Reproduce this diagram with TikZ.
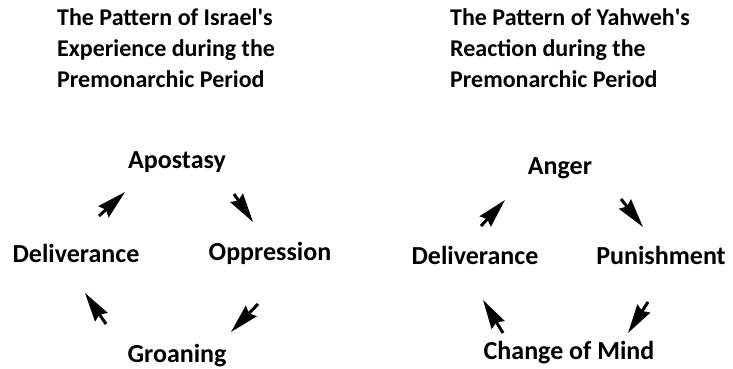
\documentclass[tikz,border=0pt]{standalone}
\usepackage{fontspec}
\setmainfont{Carlito}
\usetikzlibrary{arrows.meta}
\begin{document}
\begin{tikzpicture}
        [x=1pt,y=-1pt,
        every node/.style={inner sep=0pt,font=\fontsize{26}{31}\selectfont\bfseries},
        title/.style={anchor=north west,align=left,font=\fontsize{24}{31}\selectfont\bfseries},
        stage/.style={anchor=center},
        cyclearrow/.style={line width=3pt,-{Stealth[length=29pt,width=15pt,inset=3pt]}},
        ]
        \useasboundingbox (0,0) rectangle (733,369);
        % titles
        \node[title] (title-israel) at (57,8) {The Pattern of Israel\textquotesingle s\\Experience during the\\Premonarchic Period};
        \node[title] (title-yahweh) at (450,8) {The Pattern of Yahweh\textquotesingle s\\Reaction during the\\Premonarchic Period};
        % left cycle
        \node[stage] (apostasy) at (177,162) {Apostasy};
        \node[stage] (oppression) at (270,253) {Oppression};
        \node[stage] (groaning) at (177,356) {Groaning};
        \node[stage] (deliverance-l) at (76,253) {Deliverance};
        % right cycle
        \node[stage] (anger) at (560,168) {Anger};
        \node[stage] (punishment) at (661,255) {Punishment};
        \node[stage] (change) at (569,353) {Change of Mind};
        \node[stage] (deliverance-r) at (475,255) {Deliverance};
        % arrow ends
        \coordinate (l-1a) at (99,216); \coordinate (l-1b) at (125,192);
        \coordinate (l-2a) at (234,194); \coordinate (l-2b) at (253,222);
        \coordinate (l-3a) at (258,304); \coordinate (l-3b) at (231,332);
        \coordinate (l-4a) at (106,324); \coordinate (l-4b) at (85,293);
        \coordinate (r-1a) at (481,226); \coordinate (r-1b) at (505,200);
        \coordinate (r-2a) at (621,199); \coordinate (r-2b) at (643,227);
        \coordinate (r-3a) at (648,302); \coordinate (r-3b) at (628,333);
        \coordinate (r-4a) at (503,333); \coordinate (r-4b) at (483,300);
        \foreach \s in {l,r}
          \foreach \i in {1,...,4}
            \draw[cyclearrow] (\s-\i a) -- (\s-\i b);
    \end{tikzpicture}
\end{document}
